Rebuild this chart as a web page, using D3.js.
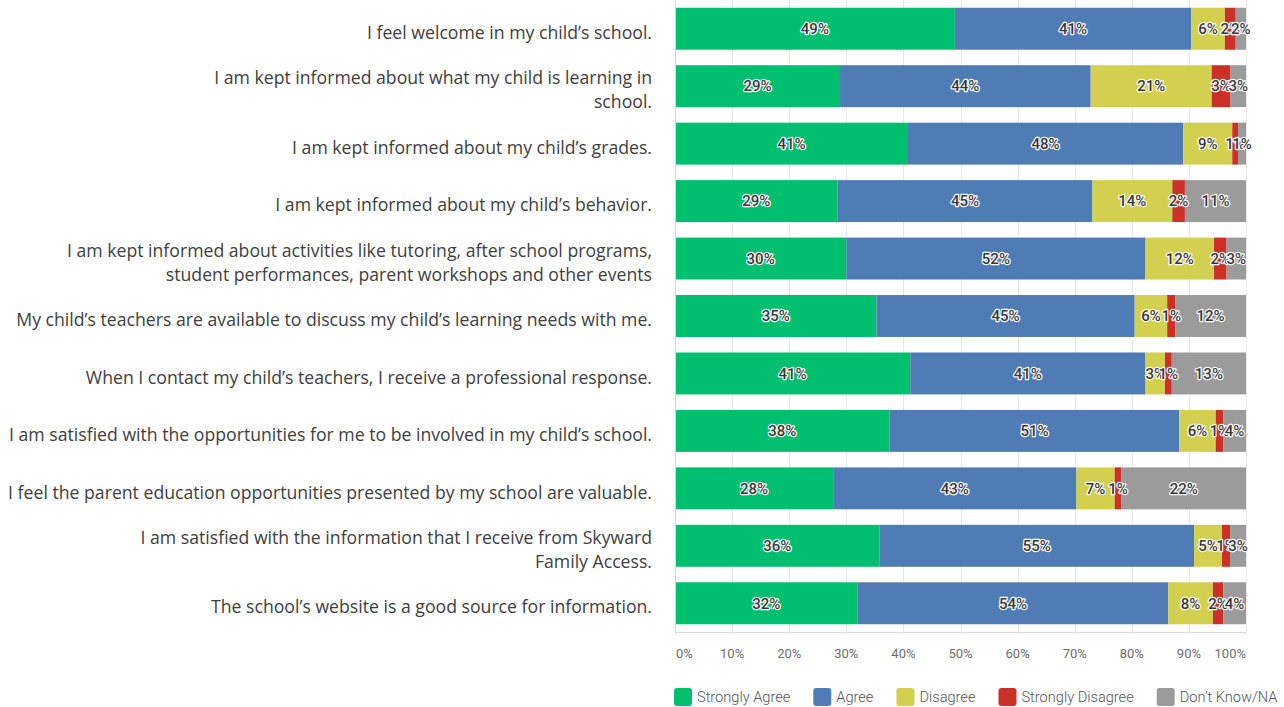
<!DOCTYPE html>
<html>
<head>
<meta charset="utf-8">
<script src="https://cdn.jsdelivr.net/npm/d3@7"></script>
<style>
  html, body { margin: 0; padding: 0; background: #fff; }
  svg { display: block; }
</style>
</head>
<body>
<svg id="chart" width="1284" height="707"></svg>
<script>
const questions = [
  ["I feel welcome in my child\u2019s school."],
  ["I am kept informed about what my child is learning in", "school."],
  ["I am kept informed about my child\u2019s grades."],
  ["I am kept informed about my child\u2019s behavior."],
  ["I am kept informed about activities like tutoring, after school programs,", "student performances, parent workshops and other events"],
  ["My child\u2019s teachers are available to discuss my child\u2019s learning needs with me."],
  ["When I contact my child\u2019s teachers, I receive a professional response."],
  ["I am satisfied with the opportunities for me to be involved in my child\u2019s school."],
  ["I feel the parent education opportunities presented by my school are valuable."],
  ["I am satisfied with the information that I receive from Skyward", "Family Access."],
  ["The school\u2019s website is a good source for information."]
];
const seriesNames = ["Strongly Agree", "Agree", "Disagree", "Strongly Disagree", "Don\u2019t Know/NA"];
const stronglyAgree    = [49.0, 28.9, 40.8, 28.5, 30.0, 35.3, 41.2, 37.6, 27.7, 35.8, 32.0];
const agree            = [41.4, 43.9, 48.2, 44.6, 52.4, 45.2, 41.2, 50.7, 42.6, 55.1, 54.4];
const disagree         = [ 5.9, 21.2,  8.6, 14.0, 12.0,  5.7,  3.4,  6.4,  6.7,  4.9,  7.8];
const stronglyDisagree = [ 1.9,  3.3,  1.0,  2.2,  2.2,  1.4,  1.2,  1.3,  1.2,  1.4,  1.8];
const dontKnow         = [ 1.8,  2.7,  1.4, 10.7,  3.4, 12.4, 13.0,  4.0, 21.8,  2.8,  4.0];
const tickValues = [0, 10, 20, 30, 40, 50, 60, 70, 80, 90, 100];
const colors = ["#00bf6f", "#507cb6", "#d3d04f", "#cc3127", "#9b9b9b"];

const series = [stronglyAgree, agree, disagree, stronglyDisagree, dontKnow];
const rows = questions.map((q, i) => {
  const r = { idx: i };
  seriesNames.forEach((s, j) => r[s] = series[j][i]);
  return r;
});

const svg = d3.select("#chart");
const x = d3.scaleLinear().domain([0, 100]).range([675, 1246]);
const y = d3.scaleBand().domain(d3.range(questions.length)).range([0, 632])
  .paddingInner(0.27).paddingOuter(0.135);

// gridlines
svg.append("g").selectAll("line").data(tickValues.slice(1)).join("line")
  .attr("x1", d => Math.round(x(d)) + 0.5).attr("x2", d => Math.round(x(d)) + 0.5)
  .attr("y1", 0).attr("y2", 634)
  .attr("stroke", "#e8e8e8").attr("stroke-width", 1);

// stacked bars
const stack = d3.stack().keys(seriesNames)(rows);
const gBars = svg.append("g");
stack.forEach((layer, j) => {
  gBars.append("g").attr("fill", colors[j]).selectAll("rect").data(layer).join("rect")
    .attr("x", d => x(d[0]))
    .attr("width", d => x(d[1]) - x(d[0]))
    .attr("y", d => y(d.data.idx))
    .attr("height", y.bandwidth());
});

// axis lines
svg.append("line").attr("x1", 675.5).attr("x2", 675.5).attr("y1", 0).attr("y2", 634)
  .attr("stroke", "#d6d6d6");
svg.append("line").attr("x1", 675).attr("x2", 1246).attr("y1", 632.5).attr("y2", 632.5)
  .attr("stroke", "#dcdcdc");

// value labels
const gLab = svg.append("g")
  .attr("font-family", "Roboto, 'DejaVu Sans', sans-serif")
  .attr("font-size", 15).attr("font-weight", 500)
  .attr("text-anchor", "middle");
stack.forEach((layer, j) => {
  gLab.selectAll(null).data(layer).join("text")
    .attr("x", d => (x(d[0]) + x(d[1])) / 2)
    .attr("y", d => y(d.data.idx) + y.bandwidth() / 2)
    .attr("dy", "0.35em")
    .attr("fill", "#383838")
    .attr("stroke", "#ffffff").attr("stroke-width", 2.4)
    .attr("stroke-linejoin", "round")
    .attr("paint-order", "stroke")
    .text(d => Math.round(d[1] - d[0]) + "%");
});

// x tick labels
svg.append("g").attr("font-family", "Roboto, 'DejaVu Sans', sans-serif")
  .attr("font-size", 13).attr("fill", "#6e6e6e")
  .selectAll("text").data(tickValues).join("text")
  .attr("x", d => d === 0 ? x(d) + 1 : x(d))
  .attr("text-anchor", d => d === 0 ? "start" : (d === 100 ? "end" : "middle"))
  .attr("y", 658)
  .text(d => d + "%");

// category labels
const gCat = svg.append("g")
  .attr("font-family", "'Open Sans', 'Liberation Sans', sans-serif")
  .attr("fill", "#404040").attr("text-anchor", "end");
let fs = 16;
gCat.attr("font-size", fs);
const lineH = 24;
questions.forEach((lines, i) => {
  const cy = y(i) + y.bandwidth() / 2 + 4;
  const t = gCat.append("text");
  lines.forEach((ln, k) => {
    t.append("tspan").attr("x", 652)
      .attr("y", cy + (k - (lines.length - 1) / 2) * lineH)
      .attr("dy", "0.35em").text(ln);
  });
});
// fit the longest line to its width in the reference
let maxW = 0;
gCat.selectAll("tspan").each(function() { maxW = Math.max(maxW, this.getComputedTextLength()); });
fs = fs * 644 / maxW;
gCat.attr("font-size", fs.toFixed(2));

// legend
const gLeg = svg.append("g").attr("font-family", "Roboto, 'DejaVu Sans', sans-serif")
  .attr("font-size", 14.6).attr("font-weight", 300).attr("fill", "#555");
let lx = 674;
seriesNames.forEach((s, j) => {
  gLeg.append("rect").attr("x", lx).attr("y", 688).attr("width", 18).attr("height", 18)
    .attr("rx", 3).attr("fill", colors[j]);
  const t = gLeg.append("text").attr("x", lx + 23).attr("y", 702).text(s);
  lx += 23 + t.node().getComputedTextLength() + 23;
});
</script>
</body>
</html>
